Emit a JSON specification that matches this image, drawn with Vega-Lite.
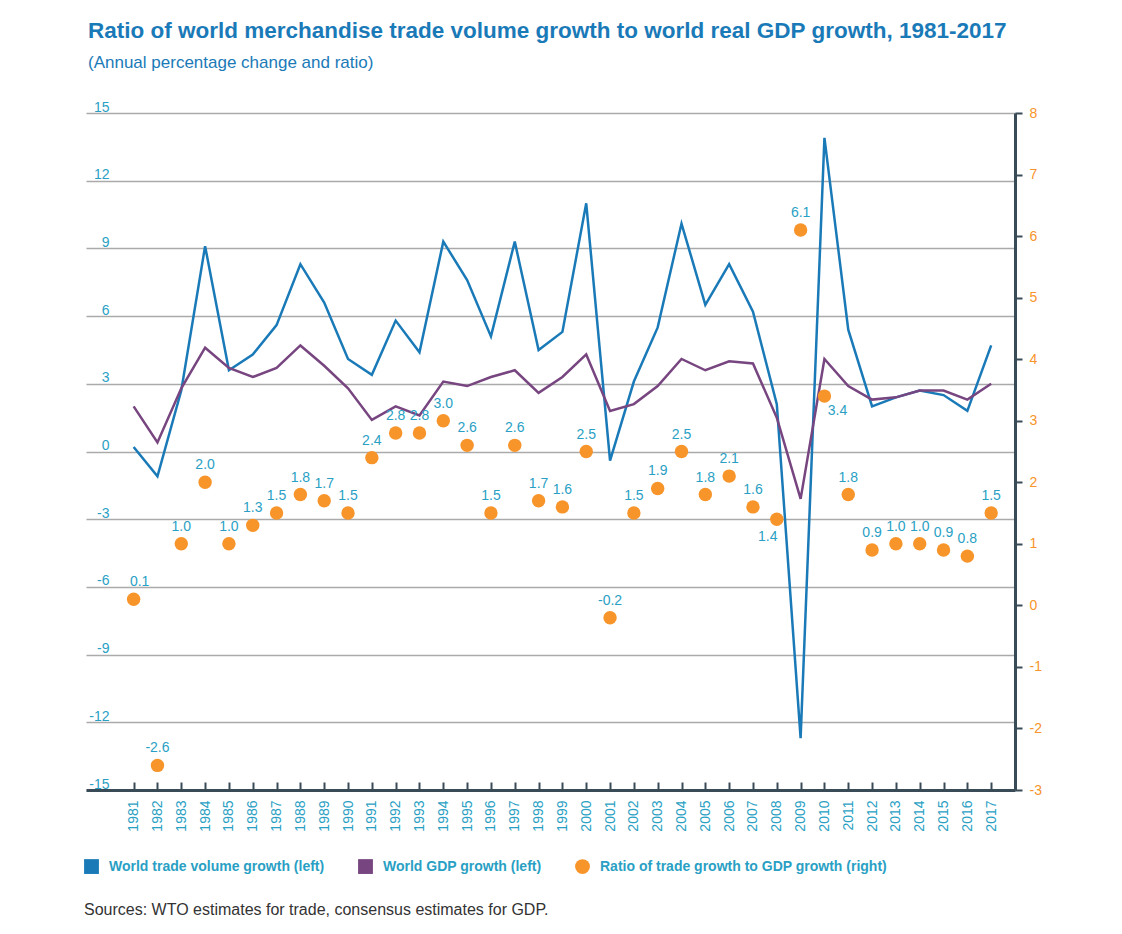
{
  "$schema": "https://vega.github.io/schema/vega-lite/v6.json",
  "autosize": {"type": "none"},
  "width": 929,
  "height": 677,
  "padding": {"left": 86, "top": 113, "right": 107, "bottom": 144},
  "background": "white",
  "config": {
    "view": {"stroke": null},
    "font": "Liberation Sans",
    "locale": {"number": {"decimal": ".", "thousands": ",", "grouping": [3], "currency": ["$", ""], "minus": "-"}}
  },
  "title": {
    "text": "Ratio of world merchandise trade volume growth to world real GDP growth, 1981-2017",
    "subtitle": "(Annual percentage change and ratio)",
    "anchor": "start",
    "frame": "group",
    "dx": 2,
    "offset": 29,
    "font": "Liberation Sans",
    "fontSize": 22.5,
    "fontWeight": "bold",
    "color": "#1a7ab8",
    "subtitleFont": "Liberation Sans",
    "subtitleFontSize": 17,
    "subtitleColor": "#1a7ab8",
    "subtitlePadding": 13
  },
  "data": {"values": [
    {"year": 1981, "trade": 0.2, "gdp": 2.0, "ratio": 0.1},
    {"year": 1982, "trade": -1.1, "gdp": 0.4, "ratio": -2.6},
    {"year": 1983, "trade": 2.7, "gdp": 2.8, "ratio": 1.0},
    {"year": 1984, "trade": 9.1, "gdp": 4.6, "ratio": 2.0},
    {"year": 1985, "trade": 3.6, "gdp": 3.7, "ratio": 1.0},
    {"year": 1986, "trade": 4.3, "gdp": 3.3, "ratio": 1.3},
    {"year": 1987, "trade": 5.6, "gdp": 3.7, "ratio": 1.5},
    {"year": 1988, "trade": 8.3, "gdp": 4.7, "ratio": 1.8},
    {"year": 1989, "trade": 6.6, "gdp": 3.8, "ratio": 1.7},
    {"year": 1990, "trade": 4.1, "gdp": 2.8, "ratio": 1.5},
    {"year": 1991, "trade": 3.4, "gdp": 1.4, "ratio": 2.4},
    {"year": 1992, "trade": 5.8, "gdp": 2.0, "ratio": 2.8},
    {"year": 1993, "trade": 4.4, "gdp": 1.6, "ratio": 2.8},
    {"year": 1994, "trade": 9.3, "gdp": 3.1, "ratio": 3.0},
    {"year": 1995, "trade": 7.6, "gdp": 2.9, "ratio": 2.6},
    {"year": 1996, "trade": 5.1, "gdp": 3.3, "ratio": 1.5},
    {"year": 1997, "trade": 9.3, "gdp": 3.6, "ratio": 2.6},
    {"year": 1998, "trade": 4.5, "gdp": 2.6, "ratio": 1.7},
    {"year": 1999, "trade": 5.3, "gdp": 3.3, "ratio": 1.6},
    {"year": 2000, "trade": 11.0, "gdp": 4.3, "ratio": 2.5},
    {"year": 2001, "trade": -0.4, "gdp": 1.8, "ratio": -0.2},
    {"year": 2002, "trade": 3.1, "gdp": 2.1, "ratio": 1.5},
    {"year": 2003, "trade": 5.5, "gdp": 2.9, "ratio": 1.9},
    {"year": 2004, "trade": 10.1, "gdp": 4.1, "ratio": 2.5},
    {"year": 2005, "trade": 6.5, "gdp": 3.6, "ratio": 1.8},
    {"year": 2006, "trade": 8.3, "gdp": 4.0, "ratio": 2.1},
    {"year": 2007, "trade": 6.2, "gdp": 3.9, "ratio": 1.6},
    {"year": 2008, "trade": 2.1, "gdp": 1.5, "ratio": 1.4},
    {"year": 2009, "trade": -12.7, "gdp": -2.1, "ratio": 6.1},
    {"year": 2010, "trade": 13.9, "gdp": 4.1, "ratio": 3.4},
    {"year": 2011, "trade": 5.4, "gdp": 2.9, "ratio": 1.8},
    {"year": 2012, "trade": 2.0, "gdp": 2.3, "ratio": 0.9},
    {"year": 2013, "trade": 2.4, "gdp": 2.4, "ratio": 1.0},
    {"year": 2014, "trade": 2.7, "gdp": 2.7, "ratio": 1.0},
    {"year": 2015, "trade": 2.5, "gdp": 2.7, "ratio": 0.9},
    {"year": 2016, "trade": 1.8, "gdp": 2.3, "ratio": 0.8},
    {"year": 2017, "trade": 4.7, "gdp": 3.0, "ratio": 1.5}
  ]},
  "encoding": {
    "x": {
      "field": "year",
      "type": "quantitative",
      "scale": {"domain": [1979, 2018], "nice": false, "zero": false},
      "axis": {
        "title": null,
        "values": [1981,1982,1983,1984,1985,1986,1987,1988,1989,1990,1991,1992,1993,1994,1995,1996,1997,1998,1999,2000,2001,2002,2003,2004,2005,2006,2007,2008,2009,2010,2011,2012,2013,2014,2015,2016,2017],
        "format": "d",
        "grid": false,
        "labelAngle": -90,
        "labelFont": "Liberation Sans",
        "labelFontSize": 14,
        "labelColor": "#2a9fc4",
        "labelPadding": 18,
        "labelOverlap": false,
        "labelFlush": false,
        "tickSize": -8,
        "tickWidth": 2,
        "tickColor": "#3a4b58",
        "domainColor": "#3a4b58",
        "domainWidth": 3
      }
    }
  },
  "layer": [
    {
      "layer": [
        {
          "mark": {"type": "line", "strokeWidth": 2.5},
          "encoding": {
            "y": {
              "field": "trade",
              "type": "quantitative",
              "scale": {"domain": [-15, 15], "nice": false, "zero": false},
              "axis": {
                "title": null,
                "orient": "left",
                "values": [-15,-12,-9,-6,-3,0,3,6,9,12,15],
                "format": "d",
                "grid": true,
                "gridColor": "#aaaaaa",
                "gridWidth": 1.5,
                "domain": false,
                "ticks": false,
                "tickSize": 0,
                "labelAlign": "right",
                "labelPadding": -23,
                "labelBaseline": "alphabetic",
                "labelOffset": -2,
                "labelFont": "Liberation Sans",
                "labelFontSize": 14,
                "labelColor": "#2a9fc4"
              }
            },
            "color": {
              "datum": "World trade volume growth (left)",
              "type": "nominal",
              "scale": {
                "domain": ["World trade volume growth (left)", "World GDP growth (left)", "Ratio of trade growth to GDP growth (right)"],
                "range": ["#1a7ab8", "#77457f", "#f7942a"]
              },
              "legend": {
                "orient": "none",
                "legendX": -2,
                "legendY": 746,
                "direction": "horizontal",
                "title": "Sources: WTO estimates for trade, consensus estimates for GDP.",
                "titleOrient": "bottom",
                "titleAnchor": "start",
                "titleFont": "Liberation Sans",
                "titleFontSize": 16,
                "titleFontWeight": "normal",
                "titleColor": "#333333",
                "titlePadding": 28,
                "titleLimit": 900,
                "labelFont": "Liberation Sans",
                "labelFontSize": 14,
                "labelFontWeight": "bold",
                "labelColor": "#2a9fc4",
                "labelLimit": 500,
                "labelOffset": 10,
                "columnPadding": 33,
                "symbolSize": 220,
                "symbolStrokeWidth": 0,
                "symbolType": "square",
                "encode": {
                  "symbols": {
                    "update": {
                      "shape": {"signal": "datum.value === 'Ratio of trade growth to GDP growth (right)' ? 'circle' : 'square'"},
                      "fill": {"scale": "color", "field": "value"},
                      "strokeWidth": {"value": 0},
                      "opacity": {"value": 1}
                    }
                  }
                }
              }
            }
          }
        },
        {
          "mark": {"type": "line", "strokeWidth": 2.5},
          "encoding": {
            "y": {"field": "gdp", "type": "quantitative"},
            "color": {"datum": "World GDP growth (left)", "type": "nominal"}
          }
        }
      ]
    },
    {
      "layer": [
        {
          "mark": {"type": "point", "filled": true, "opacity": 1, "size": 180},
          "encoding": {
            "y": {
              "field": "ratio",
              "type": "quantitative",
              "scale": {"domain": [-3, 8], "nice": false, "zero": false},
              "axis": {
                "title": null,
                "orient": "right",
                "values": [-3,-2,-1,0,1,2,3,4,5,6,7,8],
                "format": "d",
                "grid": false,
                "tickSize": 7,
                "tickWidth": 2,
                "tickColor": "#3a4b58",
                "domainColor": "#3a4b58",
                "domainWidth": 3,
                "labelPadding": 7,
                "labelFont": "Liberation Sans",
                "labelFontSize": 14,
                "labelColor": "#f7942a"
              }
            },
            "color": {"datum": "Ratio of trade growth to GDP growth (right)", "type": "nominal"}
          }
        },
        {
          "transform": [{"filter": "datum.year !== 2008 && datum.year !== 2010 && datum.year !== 1981"}],
          "mark": {"type": "text", "dy": -17, "fontSize": 14, "font": "Liberation Sans", "color": "#2a9fc4"},
          "encoding": {
            "y": {"field": "ratio", "type": "quantitative"},
            "text": {"field": "ratio", "type": "quantitative", "format": ".1f"}
          }
        },
        {
          "transform": [{"filter": "datum.year === 1981"}],
          "mark": {"type": "text", "dy": -17, "dx": 6, "fontSize": 14, "font": "Liberation Sans", "color": "#2a9fc4"},
          "encoding": {
            "y": {"field": "ratio", "type": "quantitative"},
            "text": {"field": "ratio", "type": "quantitative", "format": ".1f"}
          }
        },
        {
          "transform": [{"filter": "datum.year === 2008"}],
          "mark": {"type": "text", "dy": 18, "dx": -9, "fontSize": 14, "font": "Liberation Sans", "color": "#2a9fc4"},
          "encoding": {
            "y": {"field": "ratio", "type": "quantitative"},
            "text": {"field": "ratio", "type": "quantitative", "format": ".1f"}
          }
        },
        {
          "transform": [{"filter": "datum.year === 2010"}],
          "mark": {"type": "text", "dy": 15, "dx": 13, "fontSize": 14, "font": "Liberation Sans", "color": "#2a9fc4"},
          "encoding": {
            "y": {"field": "ratio", "type": "quantitative"},
            "text": {"field": "ratio", "type": "quantitative", "format": ".1f"}
          }
        }
      ]
    }
  ],
  "resolve": {"scale": {"y": "independent"}}
}
